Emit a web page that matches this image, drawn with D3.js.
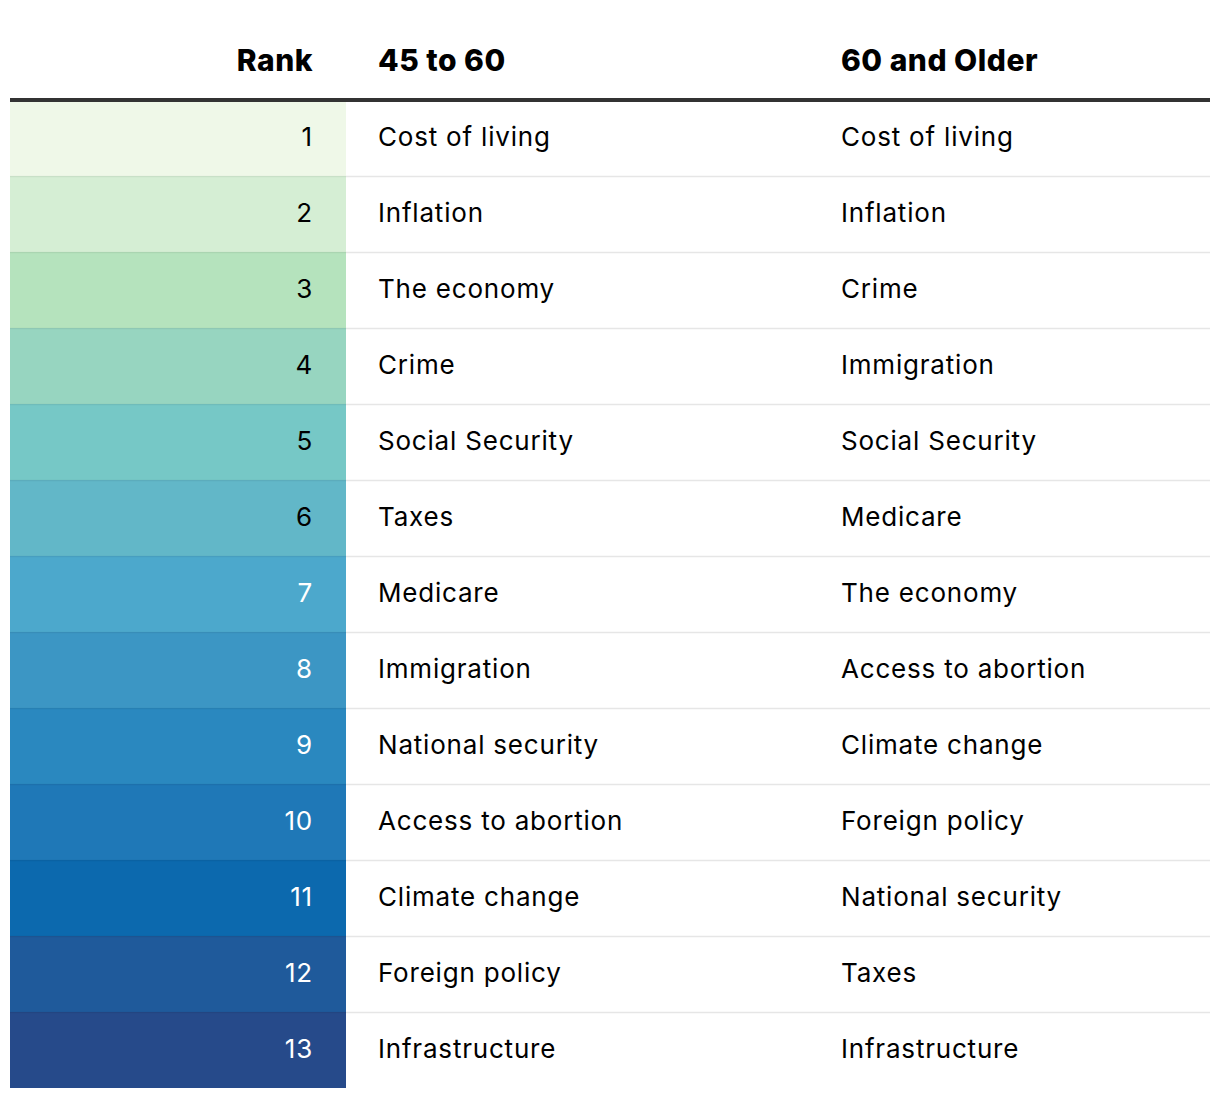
<!DOCTYPE html>
<html><head><meta charset="utf-8">
<script src="https://cdn.jsdelivr.net/npm/d3@7"></script>
<style>body{margin:0;background:#fff;} text{font-family:Inter,"Noto Sans",sans-serif;}</style>
</head><body><svg id="c" width="1220" height="1098"></svg>
<script>
const headers = ["Rank", "45 to 60", "60 and Older"];
const ranks = [1,2,3,4,5,6,7,8,9,10,11,12,13];
const group45to60 = ["Cost of living","Inflation","The economy","Crime","Social Security","Taxes","Medicare","Immigration","National security","Access to abortion","Climate change","Foreign policy","Infrastructure"];
const group60plus = ["Cost of living","Inflation","Crime","Immigration","Social Security","Medicare","The economy","Access to abortion","Climate change","Foreign policy","National security","Taxes","Infrastructure"];
const rankColors = ["#eff8e8","#d5eed4","#b5e3bd","#97d5c0","#76c8c6","#62b7c8","#4ca8cc","#3c96c4","#2a88bf","#1f78b7","#0c69ae","#1f5a9b","#264a8a"];

const svg = d3.select("#c");
const leftX = 10, rightX = 1210, rankRight = 346;
const tableTop = 100, rowH = 76;
const y = d3.scaleBand().domain(ranks).range([tableTop, tableTop + rowH*ranks.length]).padding(0);
const colX = [313, 378, 841];

svg.selectAll("text.h").data(headers).join("text")
  .attr("class","h")
  .attr("x",(d,i)=>colX[i]).attr("y",71)
  .attr("text-anchor",(d,i)=>i===0?"end":"start")
  .attr("font-size",30).attr("font-weight",800).attr("fill","#000")
  .attr("letter-spacing","0.5")
  .text(d=>d);

const rows = svg.selectAll("g.row").data(ranks).join("g").attr("class","row")
  .attr("transform",d=>`translate(0,${y(d)})`);

rows.append("rect").attr("x",leftX).attr("y",0).attr("width",rankRight-leftX).attr("height",y.bandwidth())
  .attr("fill",(d,i)=>rankColors[i]);
rows.filter((d,i)=>i>0).append("line").attr("x1",rankRight).attr("x2",rightX).attr("y1",0.5).attr("y2",0.5)
  .attr("stroke","#e6e6e6").attr("stroke-width",1.5);
rows.filter((d,i)=>i>0).append("line").attr("x1",leftX).attr("x2",rankRight).attr("y1",0.5).attr("y2",0.5)
  .attr("stroke","rgba(0,0,0,0.06)").attr("stroke-width",1.5);

const ty = y.bandwidth()/2 + 8;
rows.append("text").attr("x",colX[0]).attr("y",ty).attr("text-anchor","end")
  .attr("font-size",26).attr("letter-spacing","0.8").attr("fill",(d,i)=>i>=6?"#fff":"#000").text(d=>d);
rows.append("text").attr("x",colX[1]).attr("y",ty)
  .attr("font-size",26).attr("letter-spacing","0.8").attr("fill","#000").text((d,i)=>group45to60[i]);
rows.append("text").attr("x",colX[2]).attr("y",ty)
  .attr("font-size",26).attr("letter-spacing","0.8").attr("fill","#000").text((d,i)=>group60plus[i]);

svg.append("line").attr("x1",leftX).attr("x2",rightX).attr("y1",tableTop).attr("y2",tableTop)
  .attr("stroke","#333").attr("stroke-width",4);
</script></body></html>
